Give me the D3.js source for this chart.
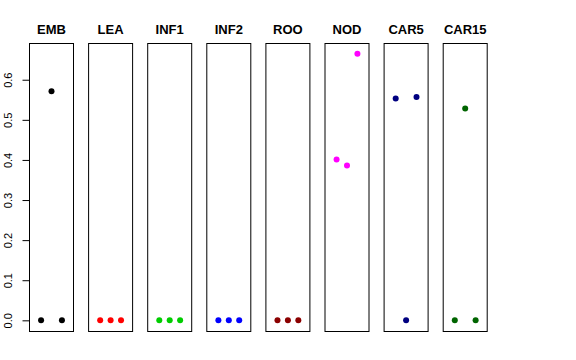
<!DOCTYPE html>
<html>
<head>
<meta charset="utf-8">
<script src="https://cdn.jsdelivr.net/npm/d3@7"></script>
<style>
  body { margin: 0; background: #fff; }
  svg { display: block; font-family: "Liberation Sans", Arial, sans-serif; }
</style>
</head>
<body>
<div class="chart"></div>
<script>
// panel names, their colours and the three values plotted in each
var tissues = ["EMB", "LEA", "INF1", "INF2", "ROO", "NOD", "CAR5", "CAR15"];
var colors = ["#000000", "#ff0000", "#00cd00", "#0000ff", "#8b0000", "#ff00ff", "#000080", "#006400"];
var values = [
    [0, 0.571, 0],
    [0, 0, 0],
    [0, 0, 0],
    [0, 0, 0],
    [0, 0, 0],
    [0.401, 0.386, 0.665],
    [0.553, 0, 0.557],
    [0, 0.528, 0]
];
var yTicks = [0, 0.1, 0.2, 0.3, 0.4, 0.5, 0.6];

var svgW = 576, svgH = 360;
var plotTop = 43, plotBottom = 331;
var firstX = 29, step = 59.1, pw = 45;

var svg = d3.select(".chart")
    .append("svg")
    .attr("width", svgW)
    .attr("height", svgH);

// R style: data range padded by 4% on each side
var yMax = d3.max(values, function(v) { return d3.max(v); });
var pad = yMax * 0.04;
var yLS = d3.scaleLinear().domain([-pad, yMax + pad]).range([plotBottom, plotTop]);

// x inside a panel: positions 1..3 on xlim 0..4 (plus 4%)
var xLS = d3.scaleLinear().domain([-0.16, 4.16]).range([0, pw]);

tissues.forEach(function(name, i) {
    var x0 = firstX + i * step;
    var g = svg.append("g").attr("transform", "translate(" + x0 + ",0)");

    g.append("rect")
        .attr("x", 0.5)
        .attr("y", plotTop + 0.5)
        .attr("width", pw - 1)
        .attr("height", plotBottom - plotTop)
        .attr("fill", "none")
        .attr("stroke", "#000")
        .attr("stroke-width", 1);

    g.append("text")
        .attr("x", pw / 2)
        .attr("y", 34)
        .attr("text-anchor", "middle")
        .style("font-size", "13px")
        .style("font-weight", "bold")
        .text(name);

    g.selectAll("circle")
        .data(values[i])
        .enter()
        .append("circle")
        .attr("cx", function(d, j) { return xLS(j + 1); })
        .attr("cy", function(d) { return yLS(d); })
        .attr("r", 3)
        .attr("fill", colors[i]);
});

// left axis
var lAxis = d3.axisLeft(yLS)
    .tickValues(yTicks)
    .tickSize(7)
    .tickFormat(d3.format(".1f"));

var ax = svg.append("g")
    .attr("class", "y-axis")
    .attr("transform", "translate(" + (firstX + 0.5) + ",0)")
    .call(lAxis);

ax.select(".domain").remove();
ax.selectAll(".tick line").attr("stroke", "#000");
ax.selectAll(".tick text")
    .attr("x", null)
    .attr("dy", null)
    .attr("transform", "translate(-18,0) rotate(-90)")
    .attr("text-anchor", "middle")
    .style("font-size", "11px")
    .style("font-family", "Liberation Sans, Arial, sans-serif")
    .attr("fill", "#000");
</script>
</body>
</html>
